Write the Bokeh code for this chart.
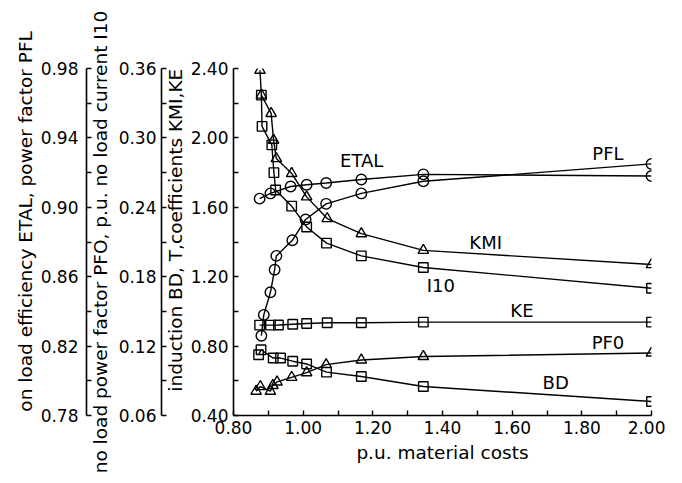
from bokeh.plotting import figure
from bokeh.models import Range1d, LinearAxis, FixedTicker, PrintfTickFormatter, ColumnDataSource
from bokeh.embed import file_html
from bokeh.resources import INLINE
from bokeh.core.properties import value

# ---------------- data ----------------
# left axis 1: on load efficiency ETAL, power factor PFL
etal_x = [0.875, 0.906, 0.964, 1.010, 1.066, 1.167, 1.345, 2.000]
etal_y = [0.905, 0.908, 0.912, 0.913, 0.914, 0.916, 0.919, 0.918]
pfl_x = [0.880, 0.887, 0.906, 0.918, 0.923, 0.969, 1.007, 1.066, 1.167, 1.345, 2.000]
pfl_y = [0.826, 0.838, 0.851, 0.864, 0.872, 0.881, 0.893, 0.902, 0.908, 0.915, 0.925]

# left axis 2: no load power factor PFO, p.u. no load current I10
pfo_x = [0.865, 0.877, 0.906, 0.913, 0.925, 0.967, 1.010, 1.066, 1.167, 1.345, 2.000]
pfo_y = [0.081, 0.085, 0.081, 0.086, 0.089, 0.093, 0.097, 0.104, 0.108, 0.111, 0.114]
i10_x = [0.880, 0.882, 0.910, 0.916, 0.921, 0.967, 1.010, 1.067, 1.167, 1.345, 2.000]
i10_y = [0.337, 0.310, 0.294, 0.270, 0.255, 0.241, 0.223, 0.209, 0.198, 0.188, 0.170]

# main axis: induction BD, coefficients KMI, KE
kmi_x = [0.876, 0.880, 0.908, 0.915, 0.923, 0.967, 1.010, 1.069, 1.167, 1.345, 2.000]
kmi_y = [2.390, 2.247, 2.141, 1.987, 1.881, 1.795, 1.660, 1.535, 1.448, 1.352, 1.270]
ke_x = [0.875, 0.906, 0.929, 0.970, 1.010, 1.069, 1.167, 1.345, 2.000]
ke_y = [0.921, 0.921, 0.922, 0.926, 0.930, 0.935, 0.935, 0.938, 0.938]
bd_x = [0.872, 0.879, 0.914, 0.935, 0.970, 1.010, 1.067, 1.167, 1.345, 2.000]
bd_y = [0.750, 0.779, 0.731, 0.731, 0.713, 0.697, 0.650, 0.625, 0.567, 0.481]

# ticks
x_ticks = [0.8, 1.0, 1.2, 1.4, 1.6, 1.8, 2.0]
x_minor = [0.9, 1.1, 1.3, 1.5, 1.7, 1.9]
main_ticks = [0.4, 0.8, 1.2, 1.6, 2.0, 2.4]
main_minor = [0.6, 1.0, 1.4, 1.8, 2.2]
eff_ticks = [0.78, 0.82, 0.86, 0.90, 0.94, 0.98]
eff_minor = [0.80, 0.84, 0.88, 0.92, 0.96]
cur_ticks = [0.06, 0.12, 0.18, 0.24, 0.30, 0.36]
cur_minor = [0.09, 0.15, 0.21, 0.27, 0.33]

# curve name labels (text, x, main-axis y)
lbl_text = ["ETAL", "PFL", "KMI", "I10", "KE", "PF0", "BD"]
lbl_x = [1.168, 1.875, 1.524, 1.395, 1.628, 1.875, 1.725]
lbl_y = [1.871, 1.912, 1.398, 1.150, 1.006, 0.821, 0.590]

FONT = "DejaVu Sans"
TICK_FS = "17px"
LABEL_FS = "18.5px"
TEXT_FS = "18px"
BLACK = "#000000"
NB = "\u00a0"

p = figure(frame_width=418, frame_height=347,
           min_border_left=233, min_border_top=68, min_border_right=14, min_border_bottom=60,
           x_range=Range1d(0.8, 2.0), y_range=Range1d(0.4, 2.4),
           output_backend="svg", toolbar_location=None)
p.extra_y_ranges = {"eff": Range1d(0.78, 0.98), "cur": Range1d(0.06, 0.36)}
p.outline_line_color = None
p.grid.visible = False


def style(ax, ticks, minor, label_standoff, axis_label_standoff):
    ax.ticker = FixedTicker(ticks=ticks, minor_ticks=minor)
    ax.formatter = PrintfTickFormatter(format="%.2f")
    ax.major_tick_in = 5
    ax.major_tick_out = 0
    ax.minor_tick_in = 5
    ax.minor_tick_out = 0
    ax.axis_line_width = 1.6
    ax.axis_line_color = BLACK
    ax.major_tick_line_width = 1.4
    ax.minor_tick_line_width = 1.4
    ax.major_tick_line_color = BLACK
    ax.minor_tick_line_color = BLACK
    ax.major_label_text_font = FONT
    ax.major_label_text_font_size = TICK_FS
    ax.major_label_text_color = BLACK
    ax.major_label_standoff = label_standoff
    ax.axis_label_text_font = FONT
    ax.axis_label_text_font_size = LABEL_FS
    ax.axis_label_text_font_style = "normal"
    ax.axis_label_text_color = BLACK
    ax.axis_label_standoff = axis_label_standoff


def spacer(gap, rng):
    return LinearAxis(y_range_name=rng, ticker=FixedTicker(ticks=[]), axis_line_color=None,
                      major_tick_out=gap, major_tick_in=0, minor_tick_out=0, minor_tick_in=0,
                      major_tick_line_color=None, minor_tick_line_color=None,
                      major_label_standoff=0, axis_label=None)


xa = p.xaxis[0]
style(xa, x_ticks, x_minor, 5, 5)
xa.axis_label = "p.u. material costs"

ya = p.yaxis[0]
style(ya, main_ticks, main_minor, 5, 2)
ya.axis_label = NB * 4 + "induction BD, T,coefficients KMI,KE"

p.add_layout(spacer(10, "cur"), "left")

a2 = LinearAxis(y_range_name="cur")
style(a2, cur_ticks, cur_minor, 5, 5)
a2.axis_label = "no load power factor PFO, p.u. no load current I10"
p.add_layout(a2, "left")

p.add_layout(spacer(2, "eff"), "left")

a1 = LinearAxis(y_range_name="eff")
style(a1, eff_ticks, eff_minor, 8, 2)
a1.axis_label = NB * 7 + "on load efficiency ETAL, power factor PFL"
p.add_layout(a1, "left")


def curve(xs, ys, marker, size, rng="default"):
    kw = {} if rng == "default" else {"y_range_name": rng}
    p.line(xs, ys, line_color=BLACK, line_width=1.4, **kw)
    p.scatter(xs, ys, marker=marker, size=size, fill_color=None,
              line_color=BLACK, line_width=1.4, **kw)


curve(etal_x, etal_y, "circle", 10.5, "eff")
curve(pfl_x, pfl_y, "circle", 10.5, "eff")
curve(pfo_x, pfo_y, "triangle", 10.5, "cur")
curve(i10_x, i10_y, "square", 9.5, "cur")
curve(kmi_x, kmi_y, "triangle", 10.5)
curve(ke_x, ke_y, "square", 9.5)
curve(bd_x, bd_y, "square", 9.5)

src = ColumnDataSource(dict(x=lbl_x, y=lbl_y, t=lbl_text))
p.text(x="x", y="y", text="t", source=src, text_font=value(FONT), text_font_size=TEXT_FS,
       text_color=BLACK, text_align="center", text_baseline="middle")

open("out.html", "w").write(file_html(p, INLINE))
